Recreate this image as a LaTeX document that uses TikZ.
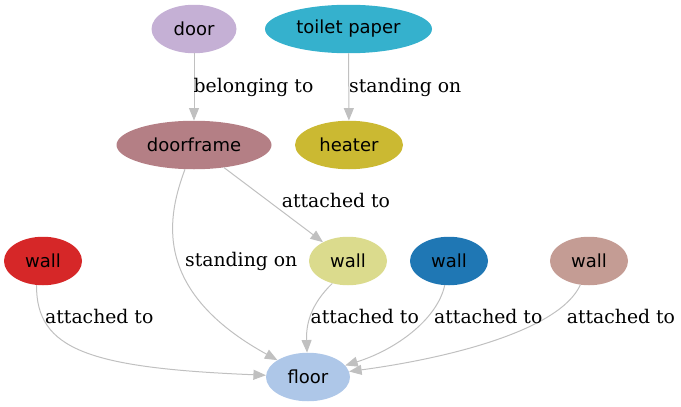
\documentclass[tikz,border=0pt]{standalone}
\usepackage{fontspec}
\setmainfont{DejaVu Serif}
\newfontfamily\nodefont{DejaVu Sans}
\usetikzlibrary{shapes.geometric,arrows.meta}
\definecolor{cdoor}{HTML}{C5B0D5}
\definecolor{ctoilet}{HTML}{35B1CD}
\definecolor{cframe}{HTML}{B47F85}
\definecolor{cheater}{HTML}{CBB932}
\definecolor{cfloor}{HTML}{AEC7E8}
\definecolor{cred}{HTML}{D62728}
\definecolor{cyel}{HTML}{DBDB8D}
\definecolor{cblue}{HTML}{1F77B4}
\definecolor{cpink}{HTML}{C49C94}
\definecolor{cedge}{HTML}{C0C0C0}
\tikzset{
  obj/.style={ellipse, draw=none, inner sep=0pt, minimum height=48.5pt,
    font=\nodefont\fontsize{18pt}{20pt}\selectfont, text=black},
  rel/.style={draw=cedge, line width=1pt, -{Triangle[length=12.5pt,width=10pt,fill=cedge]}},
  rlabel/.style={anchor=base west, inner sep=0pt, font=\fontsize{18.8pt}{21pt}\selectfont}
}
\begin{document}
\begin{tikzpicture}[x=1pt,y=-1pt]
\useasboundingbox (0,0) rectangle (681,407);
\node[obj, fill=cdoor, minimum width=85pt] (door) at (194,29) {door};
\node[obj, fill=ctoilet, minimum width=167pt] (toilet) at (348.5,29) {toilet paper};
\node[obj, fill=cframe, minimum width=155pt] (frame) at (194,145) {doorframe};
\node[obj, fill=cheater, minimum width=108pt] (heater) at (349,145) {heater};
\node[obj, fill=cred, minimum width=78pt] (wallA) at (43,261) {wall};
\node[obj, fill=cyel, minimum width=78pt] (wallB) at (348,261) {wall};
\node[obj, fill=cblue, minimum width=78pt] (wallC) at (449,261) {wall};
\node[obj, fill=cpink, minimum width=78pt] (wallD) at (589,261) {wall};
\node[obj, fill=cfloor, minimum width=84pt] (floor) at (308,377) {floor};

\draw[rel] (door) -- (frame);
\draw[rel] (toilet) -- (heater);
\draw[rel] (frame) -- (wallB);
\draw[rel] (frame) .. controls (168,215) and (150,290) .. (floor);
\draw[rel] (wallA.255) .. controls (36,350) and (90,368) .. (floor);
\draw[rel] (wallB.235) .. controls (310,305) and (306,325) .. (floor);
\draw[rel] (wallC.260) .. controls (437,320) and (395,350) .. (floor);
\draw[rel] (wallD.250) .. controls (560,330) and (450,358) .. (floor);

\node[rlabel] (l1) at (193.5,92.7) {belonging to};
\node[rlabel] (l2) at (349,92.7) {standing on};
\node[rlabel] (l3) at (281.7,207) {attached to};
\node[rlabel] (l4) at (185,266) {standing on};
\node[rlabel] (l5) at (45,323) {attached to};
\node[rlabel] (l6) at (310.5,323) {attached to};
\node[rlabel] (l7) at (434,323) {attached to};
\node[rlabel] (l8) at (566.7,323) {attached to};
\end{tikzpicture}
\end{document}
